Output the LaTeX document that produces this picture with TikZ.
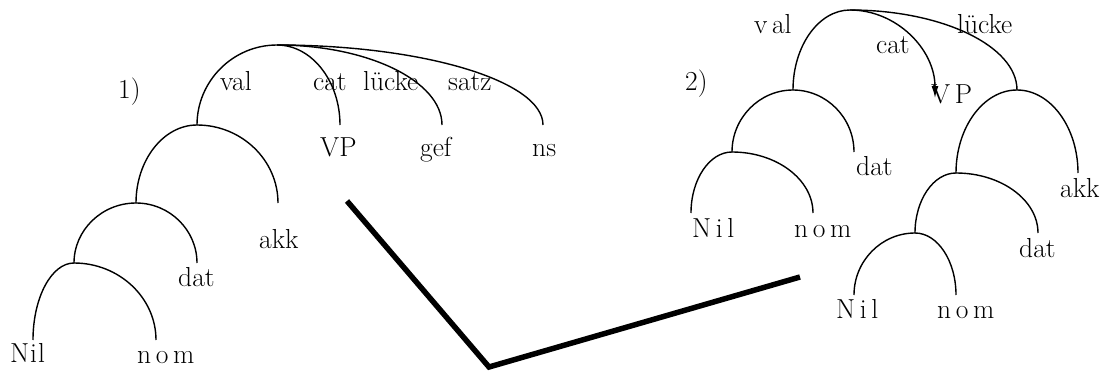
\documentclass[tikz,border=0pt]{standalone}
\usepackage{tikz}
\usetikzlibrary{calc,arrows.meta}

% quarter-ellipse branch from a mother point down to a daughter point
\newcommand{\branch}[3][]{%
  \draw[arc,#1] (#2) .. controls ($(#2)!0.55!(#2-|#3)$) and ($(#3)!0.55!(#2-|#3)$) .. (#3);}

\begin{document}
\begin{tikzpicture}[x=1pt,y=-1pt,
    arc/.style={line width=1.4pt},
    lab/.style={anchor=base west,inner sep=0pt,font=\fontsize{27.5}{32}\selectfont},
    cut/.style={line width=5.5pt,line join=miter}]
  \useasboundingbox (0,0) rectangle (1112,372);

  % Tree 1: points of the tree
  \coordinate (r1) at (277,45);
  \coordinate (a1) at (197,125);
  \coordinate (b1) at (136,203);
  \coordinate (c1) at (74,263);
  \coordinate (vp1) at (340,125);
  \coordinate (gef1) at (442,125);
  \coordinate (ns1) at (543,125);
  \coordinate (akk1) at (278,203);
  \coordinate (dat1) at (197,263);
  \coordinate (nil1) at (33,340);
  \coordinate (nom1) at (156,340);

  % Tree 1: branches
  \branch{r1}{a1}
  \branch{r1}{vp1}
  \branch{r1}{gef1}
  \branch{r1}{ns1}
  \branch{a1}{b1}
  \branch{a1}{akk1}
  \branch{b1}{c1}
  \branch{b1}{dat1}
  \branch{c1}{nil1}
  \branch{c1}{nom1}

  % Tree 1: labels
  \node[lab] (num1) at (118,98) {1)};
  \node[lab] (tval1) at (220,90) {val};
  \node[lab] (tcat1) at (313,90) {cat};
  \node[lab] (tluecke1) at (363,90) {lücke};
  \node[lab] (tsatz1) at (448,90) {satz};
  \node[lab] (tvp1) at (320,156) {VP};
  \node[lab] (tgef1) at (420,156) {gef};
  \node[lab] (tns1) at (532,156) {ns};
  \node[lab] (takk1) at (259,248) {akk};
  \node[lab] (tdat1) at (178,286) {dat};
  \node[lab] (tnil1) at (10,362) {N\kern1pt i\kern1pt l};
  \node[lab] (tnom1) at (137,363) {n\,o\,m};

  % Tree 2: points of the tree
  \coordinate (r2) at (850,10);
  \coordinate (a2) at (793,90);
  \coordinate (b2) at (732,152);
  \coordinate (c2) at (1017,90);
  \coordinate (d2) at (956,173);
  \coordinate (e2) at (915,233);
  \coordinate (vp2) at (935,98);
  \coordinate (dat2) at (854,152);
  \coordinate (nil2) at (691,213);
  \coordinate (nom2) at (813,213);
  \coordinate (akk2) at (1078,173);
  \coordinate (datb2) at (1038,233);
  \coordinate (nilb2) at (854,295);
  \coordinate (nomb2) at (956,295);

  % Tree 2: branches
  \branch{r2}{a2}
  \branch[-{Latex[length=12pt,width=7pt]}]{r2}{vp2}
  \branch{r2}{c2}
  \branch{a2}{b2}
  \branch{a2}{dat2}
  \branch{b2}{nil2}
  \branch{b2}{nom2}
  \branch{c2}{d2}
  \branch{c2}{akk2}
  \branch{d2}{e2}
  \branch{d2}{datb2}
  \branch{e2}{nilb2}
  \branch{e2}{nomb2}

  % Tree 2: labels
  \node[lab] (num2) at (685,90) {2)};
  \node[lab] (tval2) at (754,33) {v\,al};
  \node[lab] (tcat2) at (876,53) {cat};
  \node[lab] (tluecke2) at (957,33) {lücke};
  \node[lab] (tvp2) at (931,103) {V\,P};
  \node[lab] (tdat2) at (856,175) {dat};
  \node[lab] (tnil2) at (692,237) {N\,i\,l};
  \node[lab] (tnom2) at (794,237) {n\,o\,m};
  \node[lab] (takk2) at (1060,197) {akk};
  \node[lab] (tdatb2) at (1019,257) {dat};
  \node[lab] (tnilb2) at (836,318) {N\,i\,l};
  \node[lab] (tnomb2) at (937,318) {n\,o\,m};

  % thick bent line between the two trees
  \coordinate (p1) at (347,201);
  \coordinate (p2) at (489,367);
  \coordinate (p3) at (800,277);
  \draw[cut] (p1) -- (p2) -- (p3);
\end{tikzpicture}
\end{document}
